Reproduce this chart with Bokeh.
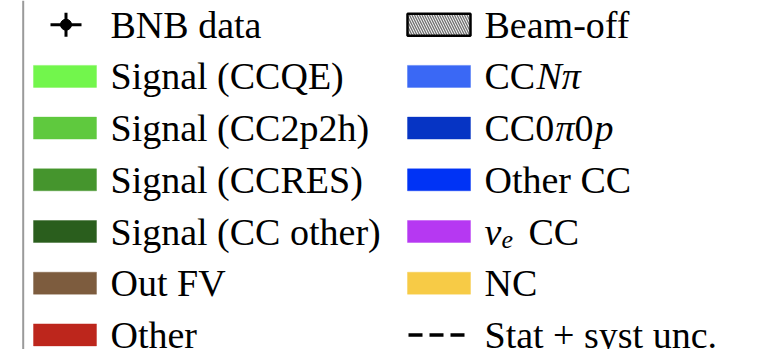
from bokeh.plotting import figure
from bokeh.models import Range1d, Span
from bokeh.core.properties import value
from bokeh.embed import file_html
from bokeh.resources import INLINE

# Legend entries, two columns, top to bottom.
# Each label is a list of runs: (text, style, dx in px, dy in px, size scale)
left_labels = [
    [("BNB data", "normal", 0, 0, 1)],
    [("Signal (CCQE)", "normal", 0, 0, 1)],
    [("Signal (CC2p2h)", "normal", 0, 0, 1)],
    [("Signal (CCRES)", "normal", 0, 0, 1)],
    [("Signal (CC other)", "normal", 0, 0, 1)],
    [("Out FV", "normal", 0, 0, 1)],
    [("Other", "normal", 0, 0, 1)],
]
left_kinds = ["data", "fill", "fill", "fill", "fill", "fill", "fill"]
left_colors = ["black", "#72f64c", "#5fc93e", "#45952d", "#2a5e1d", "#7d5c3e", "#bd261c"]

right_labels = [
    [("Beam-off", "normal", 0, 0, 1)],
    [("CC", "normal", 0, 0, 1), ("N\u03c0", "italic", 52, 0, 1)],
    [("CC0", "normal", 0, 0, 1), ("\u03c0", "italic", 71, 0, 1),
     ("0", "normal", 90, 0, 1), ("p", "italic", 110, 0, 1)],
    [("Other CC", "normal", 0, 0, 1)],
    [("\u03bd", "italic", 0, 0, 1), ("e", "italic", 17, 8, 0.68), ("CC", "normal", 44, 0, 1)],
    [("NC", "normal", 0, 0, 1)],
    [("Stat + syst unc.", "normal", 0, 0, 1)],
]
right_kinds = ["hatch", "fill", "fill", "fill", "fill", "fill", "dashed"]
right_colors = ["white", "#3a68f5", "#0634c4", "#0033f5", "#b638f2", "#f7cb46", "black"]

W, H = 777, 349
FONT = "Liberation Serif"
FONT_PX = 38

# layout in screen pixels
COL_LEFT = [33, 407]      # left edge of each column's key
KEY_W, KEY_H = 63, 22
TEXT_GAP = 77             # key left edge -> label start
ROW0, ROW_STEP = 24.2, 51.7

p = figure(width=W, height=H, output_backend="svg", toolbar_location=None,
           x_range=Range1d(0, W), y_range=Range1d(H, 0), min_border=0)
p.axis.visible = False
p.grid.visible = False
p.outline_line_color = None
p.background_fill_color = "white"
p.border_fill_color = "white"

# left edge of the legend frame
p.add_layout(Span(location=22.7, dimension="height", line_color="#9a9a9a", line_width=2))


def row_y(i):
    return ROW0 + ROW_STEP * i


for col, (labels, kinds, colors) in enumerate([(left_labels, left_kinds, left_colors),
                                                (right_labels, right_kinds, right_colors)]):
    x0 = COL_LEFT[col]
    xc = x0 + KEY_W / 2
    for i, (runs, kind, c) in enumerate(zip(labels, kinds, colors)):
        y = row_y(i)
        if kind == "fill":
            p.rect(x=[xc], y=[y], width=KEY_W, height=KEY_H, fill_color=c,
                   line_color=c, line_alpha=0.4, line_width=1)
        elif kind == "hatch":
            p.rect(x=[xc], y=[y], width=KEY_W, height=KEY_H, fill_color="#f4f4f4",
                   hatch_pattern="\\", hatch_color="#707070", hatch_scale=5,
                   hatch_weight=1.3, line_color="black", line_width=2.5)
        elif kind == "dashed":
            p.segment(x0=[x0 + 1], y0=[y], x1=[x0 + KEY_W - 6], y1=[y],
                      line_color=c, line_width=3.5, line_dash="14 7")
        elif kind == "data":
            p.scatter(x=[xc + 1], y=[y], marker="dash", size=31, line_color=c, line_width=3)
            p.scatter(x=[xc + 1], y=[y], marker="dash", size=24, angle=1.5708,
                      line_color=c, line_width=3)
            p.scatter(x=[xc + 1], y=[y], marker="circle", size=11, fill_color=c, line_color=c)
        for txt, style, dx, dy, scale in runs:
            p.text(x=[x0 + TEXT_GAP], y=[y], text=[txt], text_font=value(FONT),
                   text_font_size=f"{FONT_PX * scale:.0f}px", text_font_style=style,
                   text_color="black", text_baseline="middle", text_align="left",
                   x_offset=dx, y_offset=dy)

open("out.html", "w").write(file_html(p, INLINE))
